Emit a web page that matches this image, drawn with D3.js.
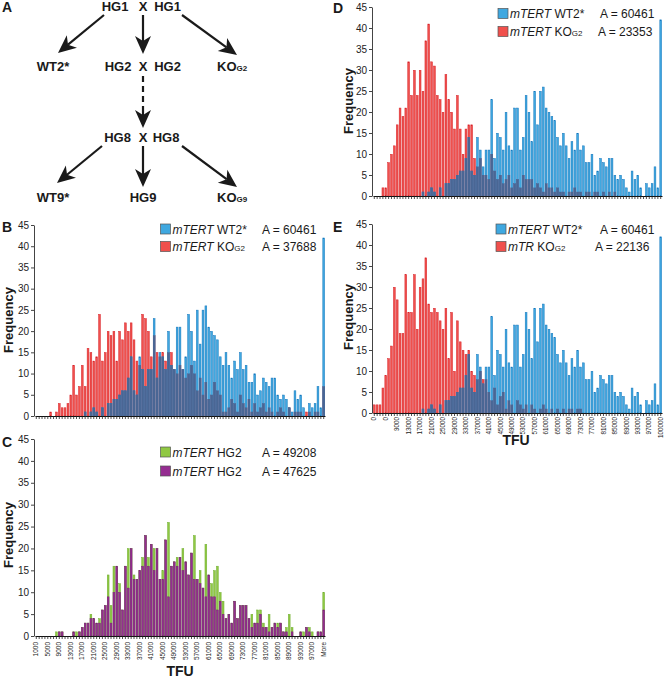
<!DOCTYPE html>
<html><head><meta charset="utf-8">
<script src="https://cdn.jsdelivr.net/npm/d3@7"></script>
<style>
body{margin:0;background:#fff}
text{font-family:Arial,"Liberation Sans",Helvetica,sans-serif}
</style>
</head><body>
<svg id="fig" width="664" height="679"></svg>
<script>
// ---------- DATA ----------
const binIndex = d3.range(101); // 1000..100000 step 1000 + "More"
const yTicks = [0,5,10,15,20,25,30,35,40,45];

// mTERT WT2* (A = 60461) — same sample in B, D, E
const wt2Star = [0,0,0,0,0,0,0,0,0,0, 0,0,0,0,0,0,0,1,0,1, 2,1,0,2,0,3,3,4,4,5,
  6,6,9,14,6,5,14,11,7,11, 11,23,9,15,14,11,20,12,11,21, 21,11,14,24,20,13,25,17,25,26,
  21,20,19,18,14,12,15,12,9,13, 11,15,11,12,8,8,10,5,6,9, 8,7,9,9,5,4,5,4,2,1,
  6,4,5,2,0,3,2,3,7,2, 42];
// mTERT KO G2 (A = 37688)
const koG2B = [0,0,0,0,0,1,0,1,3,2, 2,3,5,12,5,7,12,7,16,15, 13,14,24,13,15,20,19,20,13,20,
  18,22,20,22,18,13,12,24,23,20, 14,19,15,14,15,13,15,15,11,10, 12,11,9,10,12,10,6,9,5,8,
  4,5,8,6,5,1,1,2,4,3, 1,5,3,2,4,1,3,1,2,3, 1,2,1,0,1,2,1,0,2,0,
  1,1,1,0,1,1,0,1,1,0, 7];
// mTERT HG2 (A = 49208)
const hg2Green = [0,0,0,0,0,0,0,1,1,1, 0,0,0,1,1,1,2,3,3,5, 4,3,4,6,7,14,7,16,16,12,
  6,16,20,20,14,13,15,18,23,18, 21,20,20,13,15,22,26,16,17,18, 18,20,17,14,19,23,13,15,11,21,
  14,12,15,16,10,8,4,5,3,8, 4,7,7,7,4,5,3,6,6,3, 2,5,2,3,3,3,1,2,5,2,
  0,0,1,1,2,2,1,0,1,1, 10];
// mTERT HG2 (A = 47625)
const hg2Purple = [0,0,0,0,0,0,0,0,1,1, 0,0,0,1,0,1,2,3,3,4, 4,3,3,6,7,9,3,10,16,10,
  6,16,11,20,13,13,15,16,23,16, 21,15,20,13,13,22,9,16,17,16, 18,15,17,14,19,13,13,12,11,9,
  14,9,9,6,8,5,4,5,3,8, 4,7,7,7,4,2,3,3,5,2, 2,1,2,3,2,3,1,1,0,1,
  0,0,1,0,2,1,0,0,1,1, 6];
// mTERT KO G2 (A = 23353)
const koG2D = [0,0,0,2,2,8,10,12,17,21, 19,21,32,24,30,24,30,25,37,41, 32,31,24,23,20,29,23,20,16,24,
  16,10,16,17,17,9,7,9,5,5, 4,10,6,4,5,3,4,5,2,3, 4,2,5,4,4,4,2,3,2,1,
  3,2,2,1,2,1,1,0,1,1, 2,1,1,0,1,1,0,1,1,0, 1,0,1,0,1,0,0,0,0,0,
  0,0,0,0,0,0,0,0,0,0, 0];
// mTR KO G2 (A = 22136)
const mtrKoG2E = [2,2,2,6,9,13,16,30,27,19, 19,33,24,24,33,20,30,32,37,26, 24,25,24,22,20,25,13,24,10,22,
  17,15,14,15,10,9,8,10,8,8, 5,3,6,2,4,5,1,3,2,0, 3,2,1,2,0,2,1,0,1,2,
  1,0,1,0,1,0,1,0,1,1, 0,1,1,0,0,0,0,0,0,0, 0,0,0,0,0,0,0,0,0,0,
  0,0,0,0,0,0,0,0,0,0, 0];

const cTickLabels = ["1000","5000","9000","13000","17000","21000","25000","29000","33000","37000","41000","45000","49000","53000","57000","61000","65000","69000","73000","77000","81000","85000","89000","93000","97000","More"];
const eTickLabels = ["0","0","9000","13000","17000","21000","25000","29000","33000","37000","41000","45000","49000","53000","57000","61000","65000","69000","73000","77000","81000","85000","89000","93000","97000","100000"];

// ---------- STYLE ----------
const C = {
  blueFill:"#3fa8e0", blueStroke:"#1577bd",
  redFill:"#f0504c", redStroke:"#d8232a",
  slate:"#4a6694",
  greenFill:"#90c843", greenStroke:"#6fae2e",
  purpleFill:"#952d91", purpleStroke:"#7b1f78"
};

const svg = d3.select("#fig");

// ---------- PANEL A (diagram) ----------
const A = svg.append("g");
function bold(x,y,t,size,anchor){
  return A.append("text").attr("x",x).attr("y",y).attr("font-weight","bold")
    .attr("font-size",size||13).attr("text-anchor",anchor||"middle").attr("fill","#1a1a1a").text(t);
}
function arrow(x1,y1,x2,y2,dashTo){
  const dx=x2-x1, dy=y2-y1, L=Math.hypot(dx,dy), ux=dx/L, uy=dy/L, px=-uy, py=ux;
  const hl=18, hw=8, notch=5;
  const bx=x2-ux*hl, by=y2-uy*hl;
  if(dashTo){
    A.append("line").attr("x1",x1).attr("y1",y1).attr("x2",x1+ux*dashTo).attr("y2",y1+uy*dashTo)
      .attr("stroke","#1a1a1a").attr("stroke-width",2.2).attr("stroke-dasharray","6,4");
    A.append("line").attr("x1",x1+ux*dashTo).attr("y1",y1+uy*dashTo).attr("x2",bx+ux*notch).attr("y2",by+uy*notch)
      .attr("stroke","#1a1a1a").attr("stroke-width",2.2);
  } else {
    A.append("line").attr("x1",x1).attr("y1",y1).attr("x2",bx+ux*notch).attr("y2",by+uy*notch)
      .attr("stroke","#1a1a1a").attr("stroke-width",2.2);
  }
  A.append("path").attr("d",`M${x2},${y2}L${bx+px*hw},${by+py*hw}L${bx+ux*notch},${by+uy*notch}L${bx-px*hw},${by-py*hw}Z`)
    .attr("fill","#1a1a1a");
}
bold(2,12,"A",14,"start");
bold(115,11,"HG1"); bold(143,11,"X"); bold(167.5,11,"HG1");
arrow(104,15,58,53); arrow(143,15,143,54); arrow(182,15,237,55);
bold(53,71,"WT2*"); bold(118,71,"HG2"); bold(143,71,"X"); bold(167.5,71,"HG2");
{const t=A.append("text").attr("x",217).attr("y",71).attr("font-weight","bold").attr("font-size",13).attr("fill","#1a1a1a");
 t.append("tspan").text("KO"); t.append("tspan").attr("font-size",8).text("G2");}
arrow(143,76,143,128,30);
bold(117.5,142,"HG8"); bold(143,142,"X"); bold(166,142,"HG8");
arrow(102,146,57,183); arrow(143,146,143,187); arrow(182,146,237,187);
bold(53,202,"WT9*"); bold(143,202,"HG9");
{const t=A.append("text").attr("x",217).attr("y",202).attr("font-weight","bold").attr("font-size",13).attr("fill","#1a1a1a");
 t.append("tspan").text("KO"); t.append("tspan").attr("font-size",8).text("G9");}

// ---------- HISTOGRAM PANELS ----------
function panel(cfg){
  const g = svg.append("g");
  const x = d3.scaleBand().domain(binIndex).range(cfg.xr).paddingInner(0.2).paddingOuter(0.05);
  const y = d3.scaleLinear().domain([0,45]).range(cfg.yr);
  cfg.series.forEach(s=>{
    g.append("g").selectAll("rect").data(s.values.map((v,i)=>({i,v})).filter(d=>d.v>0)).join("rect")
      .attr("x",d=>x(d.i)+0.25).attr("width",x.bandwidth()-0.5)
      .attr("y",d=>y(d.v)+0.25).attr("height",d=>y(0)-y(d.v)-0.25)
      .attr("fill",s.fill).attr("stroke",s.stroke).attr("stroke-width",0.5);
  });
  if(cfg.overlap){
    const [a,b]=cfg.overlap;
    g.append("g").selectAll("rect").data(binIndex.map(i=>({i,v:Math.min(a[i],b[i])})).filter(d=>d.v>0)).join("rect")
      .attr("x",d=>x(d.i)).attr("width",x.bandwidth())
      .attr("y",d=>y(d.v)).attr("height",d=>y(0)-y(d.v))
      .attr("fill",C.slate);
  }
  // y axis
  const ya = g.append("g").attr("transform",`translate(${cfg.xr[0]-1},0)`)
    .call(d3.axisLeft(y).tickValues(yTicks).tickSize(3).tickSizeOuter(0).tickPadding(2));
  ya.selectAll("text").attr("font-size",10).attr("fill","#222").attr("font-family","Arial,'Liberation Sans',sans-serif");
  ya.selectAll("line,path").attr("stroke","#444");
  // x axis
  const xa = g.append("g").attr("transform",`translate(0,${cfg.yr[0]})`)
    .call(d3.axisBottom(x).tickSize(3).tickSizeOuter(0).tickFormat(""));
  xa.select("path").attr("stroke","#111").attr("stroke-width",1.2);
  xa.selectAll("line").attr("stroke","#222").attr("stroke-width",0.8);
  if(cfg.tickLabels){
    const pos = cfg.tickLabels.map((t,k)=>({t,i:k<cfg.tickLabels.length-1?k*4:100}));
    g.append("g").selectAll("text").data(pos).join("text")
      .attr("transform",d=>`translate(${x(d.i)+x.bandwidth()/2+2.2},${cfg.yr[0]+cfg.labelGap}) rotate(-90)`)
      .attr("text-anchor","end").attr("font-size",cfg.labelSize).attr("fill","#222").text(d=>d.t);
    g.append("text").attr("x",cfg.tfu[0]).attr("y",cfg.tfu[1]).attr("text-anchor","middle")
      .attr("font-weight","bold").attr("font-size",14).attr("fill","#1a1a1a").text("TFU");
  }
  // y title
  g.append("text").attr("transform",`translate(${cfg.freq[0]},${cfg.freq[1]}) rotate(-90)`)
    .attr("text-anchor","middle").attr("font-weight","bold").attr("font-size",13).attr("fill","#1a1a1a").text("Frequency");
  // panel letter
  g.append("text").attr("x",cfg.letter[0]).attr("y",cfg.letter[1]).attr("font-weight","bold")
    .attr("font-size",14).attr("fill","#1a1a1a").text(cfg.name);
  // legend
  cfg.legend.forEach((l,k)=>{
    const yy = cfg.leg.y + k*cfg.leg.dy;
    g.append("rect").attr("x",cfg.leg.x).attr("y",yy-9.5).attr("width",10).attr("height",10)
      .attr("fill",l.fill).attr("stroke","#555").attr("stroke-width",0.7);
    const t = g.append("text").attr("x",cfg.leg.x+12).attr("y",yy).attr("font-size",12).attr("fill","#1a1a1a");
    t.append("tspan").attr("font-style","italic").text(l.gene);
    t.append("tspan").text(" "+l.geno);
    if(l.sub) t.append("tspan").attr("font-size",8).text(l.sub);
    g.append("text").attr("x",cfg.leg.ax[k]).attr("y",yy).attr("font-size",12).attr("fill","#1a1a1a").text(l.a);
  });
}

panel({name:"B", letter:[2,232], xr:[35,325], yr:[416,225], freq:[13,320],
  series:[{values:koG2B,fill:C.redFill,stroke:C.redStroke},{values:wt2Star,fill:C.blueFill,stroke:C.blueStroke}],
  overlap:[koG2B,wt2Star],
  leg:{x:160.5,y:233.5,dy:17.5,ax:[262,262]},
  legend:[{fill:C.blueFill,gene:"mTERT",geno:"WT2*",a:"A = 60461"},
          {fill:C.redFill,gene:"mTERT",geno:"KO",sub:"G2",a:"A = 37688"}]});

panel({name:"C", letter:[2,447], xr:[35,325], yr:[636,439], freq:[13,535],
  series:[{values:hg2Green,fill:C.greenFill,stroke:C.greenStroke},{values:hg2Purple,fill:C.purpleFill,stroke:C.purpleStroke}],
  tickLabels:cTickLabels, labelGap:6, labelSize:6.5, tfu:[180,676],
  leg:{x:160.5,y:456.5,dy:19,ax:[262,262]},
  legend:[{fill:C.greenFill,gene:"mTERT",geno:"HG2",a:"A = 49208"},
          {fill:C.purpleFill,gene:"mTERT",geno:"HG2",a:"A = 47625"}]});

panel({name:"D", letter:[333,13], xr:[373,662], yr:[196,7], freq:[353,101],
  series:[{values:koG2D,fill:C.redFill,stroke:C.redStroke},{values:wt2Star,fill:C.blueFill,stroke:C.blueStroke}],
  overlap:[koG2D,wt2Star],
  leg:{x:498,y:18,dy:18,ax:[600,598]},
  legend:[{fill:C.blueFill,gene:"mTERT",geno:"WT2*",a:"A = 60461"},
          {fill:C.redFill,gene:"mTERT",geno:"KO",sub:"G2",a:"A = 23353"}]});

panel({name:"E", letter:[333,232], xr:[373,662], yr:[413,224], freq:[353,317],
  series:[{values:mtrKoG2E,fill:C.redFill,stroke:C.redStroke},{values:wt2Star,fill:C.blueFill,stroke:C.blueStroke}],
  overlap:[mtrKoG2E,wt2Star],
  tickLabels:eTickLabels, labelGap:4, labelSize:6.3, tfu:[516,445],
  leg:{x:496,y:233.5,dy:17.5,ax:[600,595]},
  legend:[{fill:C.blueFill,gene:"mTERT",geno:"WT2*",a:"A = 60461"},
          {fill:C.redFill,gene:"mTR",geno:"KO",sub:"G2",a:"A = 22136"}]});
</script>
</body></html>
